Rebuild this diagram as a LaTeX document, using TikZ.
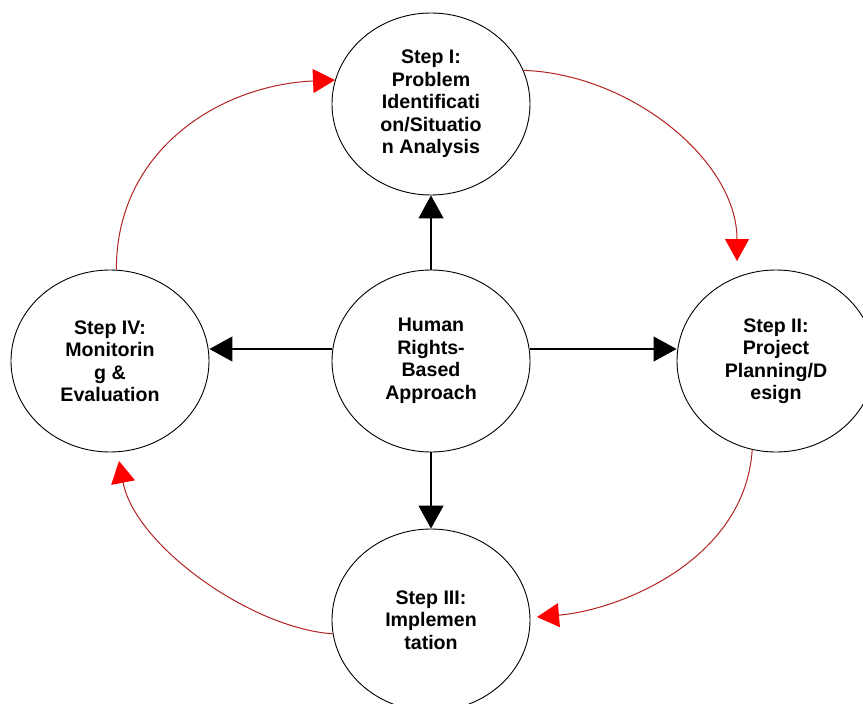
\documentclass[tikz,border=0pt]{standalone}
\usepackage{fontspec}
\setmainfont{Liberation Sans}
\usetikzlibrary{shapes.geometric,arrows.meta}
\definecolor{arcred}{RGB}{180,35,35}
\tikzset{
  stepnode/.style={draw=black, line width=0.9pt, ellipse, minimum width=198pt, minimum height=182pt, inner sep=0pt, align=center, font=\fontsize{19.6}{22.5}\selectfont\bfseries},
  blackarrow/.style={line width=1.1pt, -{Triangle[length=23pt,width=25pt]}},
  redarrow/.style={draw=arcred, line width=1pt, -{Triangle[length=22pt,width=24pt,color=red]}}
}
\begin{document}
\begin{tikzpicture}[x=1pt,y=-1pt]
\useasboundingbox (0,0) rectangle (863,704);
\clip (0,0) rectangle (863,704);
\fill[white] (0,0) rectangle (863,704);
\node[stepnode] (t) at (431,104) {Step I:\\Problem\\Identificati\\on/Situatio\\n Analysis};
\node[stepnode] (c) at (431,361) {Human\\Rights-\\Based\\Approach};
\node[stepnode] (l) at (110,361) {Step IV:\\Monitorin\\g \&\\Evaluation};
\node[stepnode] (r) at (776,361) {Step II:\\Project\\Planning/D\\esign};
\node[stepnode] (b) at (431,620) {Step III:\\Implemen\\tation};
% black arrows
\draw[blackarrow] (c.north) -- (t.south);
\draw[blackarrow] (c.south) -- (b.north);
\draw[blackarrow] ([yshift=12pt]c.west) -- ([yshift=12pt]l.east);
\draw[blackarrow] ([yshift=12pt]c.east) -- ([yshift=12pt]r.west);
% red cycle arcs
\coordinate (e2) at (737,261);
\coordinate (e3) at (537,617);
\coordinate (e4) at (119,461);
\draw[redarrow] (l.86) .. controls (116,150) and (220,85) .. (t.166);
\draw[redarrow] (t.20) .. controls (630,74) and (737,160) .. (e2);
\draw[redarrow] (r.255) .. controls (745,560) and (620,610) .. (e3);
\draw[redarrow] (b.188) .. controls (250,628) and (135,545) .. (e4);
\end{tikzpicture}
\end{document}
